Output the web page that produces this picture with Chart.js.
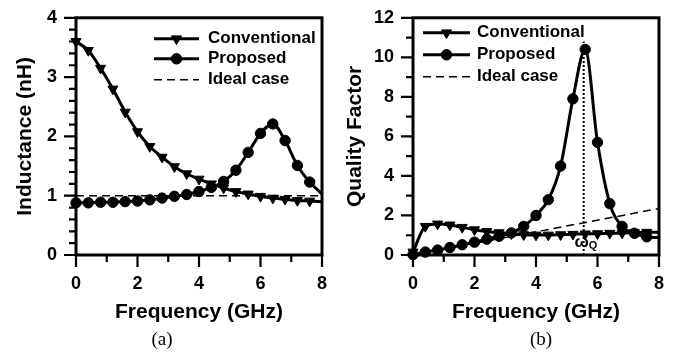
<!DOCTYPE html>
<html>
<head>
<meta charset="utf-8">
<script src="https://cdn.jsdelivr.net/npm/chart.js@4.4.0/dist/chart.umd.min.js"></script>
<style>
  body { margin: 0; background: #fff; }
  #wrap { position: relative; width: 685px; height: 357px; }
  .box { position: absolute; top: 0; height: 357px; }
  #boxA { left: 0; width: 342px; }
  #boxB { left: 342px; width: 343px; }
</style>
</head>
<body>
<div id="wrap">
  <div class="box" id="boxA"><canvas id="chartA"></canvas></div>
  <div class="box" id="boxB"><canvas id="chartB"></canvas></div>
</div>
<script>
// frequency points (GHz)
const freq = [0, 0.4, 0.8, 1.2, 1.6, 2.0, 2.4, 2.8, 3.2, 3.6, 4.0, 4.4, 4.8, 5.2, 5.6, 6.0, 6.4, 6.8, 7.2, 7.6, 8.0];

// (a) inductance, nH
const indConventional = [3.60, 3.45, 3.15, 2.80, 2.41, 2.08, 1.83, 1.65, 1.49, 1.37, 1.28, 1.20, 1.13, 1.07, 1.03, 0.99, 0.96, 0.94, 0.92, 0.91, 0.90];
const indProposed = [0.88, 0.88, 0.89, 0.89, 0.90, 0.91, 0.93, 0.96, 0.99, 1.02, 1.07, 1.14, 1.24, 1.43, 1.73, 2.05, 2.21, 1.93, 1.51, 1.23, 1.03];
const indIdealFreq = [0, 8];
const indIdeal = [1, 1];

// (b) quality factor
const qConventional = [0.15, 1.45, 1.57, 1.52, 1.40, 1.28, 1.19, 1.13, 1.08, 1.03, 1.01, 1.01, 1.03, 1.05, 1.07, 1.08, 1.10, 1.11, 1.13, 1.15, 1.15];
const qProposed = [0.02, 0.15, 0.25, 0.38, 0.52, 0.65, 0.80, 0.95, 1.12, 1.45, 2.00, 2.80, 4.50, 7.90, 10.40, 5.70, 2.60, 1.45, 1.10, 0.92, 0.88];
const qIdealFreq = [0, 8];
const qIdeal = [0, 2.35];
const wqFreq = [5.55, 5.55];
const wqLine = [0, 10.8];

const xTicks = [0, 2, 4, 6, 8];
const yTicksA = [0, 1, 2, 3, 4];
const yTicksB = [0, 2, 4, 6, 8, 10, 12];
const legendLabels = ['Conventional', 'Proposed', 'Ideal case'];

const SANS = "'Liberation Sans', Arial, sans-serif";
const TRI_R = 5.8;
const DOT_R = 5.2;

function pts(xs, ys) {
  return xs.map((x, i) => ({ x: x, y: ys[i] }));
}

function curve(xs, ys, style) {
  const last = xs.length - 1;
  const r = style === 'triangle' ? TRI_R : DOT_R;
  return {
    data: pts(xs, ys),
    borderColor: '#000',
    backgroundColor: '#000',
    borderWidth: 3,
    pointStyle: style,
    rotation: style === 'triangle' ? 180 : 0,
    pointRadius: (c) => (c.dataIndex === last ? 0 : r),
    pointBorderWidth: 1,
    pointBorderColor: '#000',
    pointBackgroundColor: '#000',
    tension: 0.4,
    cubicInterpolationMode: 'monotone',
    clip: false,
  };
}

function straight(xs, ys, dash, width) {
  return {
    data: pts(xs, ys),
    borderColor: '#000',
    borderWidth: width,
    borderDash: dash,
    pointRadius: 0,
    tension: 0,
    clip: false,
  };
}

// frame, outward ticks, legend, captions
const decor = {
  id: 'decor',
  afterDatasetsDraw(chart, args, o) {
    const { ctx, chartArea: a, scales } = chart;
    const x = scales.x, y = scales.y;
    ctx.save();
    ctx.strokeStyle = '#000';
    ctx.lineWidth = 2.2;
    const marks = (min, max, minor, major, fn) => {
      const n = Math.round((max - min) / minor);
      for (let i = 0; i <= n; i++) {
        const v = min + i * minor;
        const isMajor = Math.abs(v / major - Math.round(v / major)) < 1e-6;
        fn(v, isMajor ? 12 : 7);
      }
    };
    ctx.beginPath();
    marks(0, 8, 1, 2, (v, len) => {
      const px = x.getPixelForValue(v);
      ctx.moveTo(px, a.bottom);
      ctx.lineTo(px, a.bottom + len);
    });
    marks(0, o.yMax, o.yMinor, o.yMajor, (v, len) => {
      const py = y.getPixelForValue(v);
      ctx.moveTo(a.left, py);
      ctx.lineTo(a.left - len, py);
    });
    ctx.stroke();
    ctx.lineWidth = 3;
    ctx.strokeRect(a.left, a.top, a.width, a.height);

    // legend
    const L = o.legend;
    ctx.font = 'bold 17px ' + SANS;
    ctx.textBaseline = 'middle';
    ctx.textAlign = 'left';
    ctx.fillStyle = '#000';
    legendLabels.forEach((lab, i) => {
      const ly = a.top + L.rows[i];
      const x0 = a.left + L.x0, x1 = a.left + L.x1;
      ctx.beginPath();
      if (i === 2) {
        ctx.lineWidth = 1.5;
        ctx.setLineDash([8, 5]);
      } else {
        ctx.lineWidth = 3;
        ctx.setLineDash([]);
      }
      ctx.moveTo(x0, ly);
      ctx.lineTo(x1, ly);
      ctx.stroke();
      ctx.setLineDash([]);
      if (i < 2) {
        ctx.lineWidth = 1;
        Chart.helpers.drawPoint(ctx, {
          pointStyle: i === 0 ? 'triangle' : 'circle',
          rotation: i === 0 ? 180 : 0,
          radius: i === 0 ? TRI_R : DOT_R,
          borderWidth: 1,
        }, (x0 + x1) / 2, ly);
        ctx.fill();
      }
      ctx.fillText(lab, a.left + L.tx, ly);
    });

    // omega_Q marker label
    if (o.wq) {
      const wx = x.getPixelForValue(o.wq.x);
      const wy = y.getPixelForValue(o.wq.y);
      ctx.font = 'bold 17px ' + SANS;
      ctx.textBaseline = 'alphabetic';
      ctx.fillText('ω', wx, wy);
      const w = ctx.measureText('ω').width;
      ctx.font = 'bold 11px ' + SANS;
      ctx.fillText('Q', wx + w, wy + 2);
    }

    // panel caption
    ctx.font = "19px 'Liberation Serif', 'Times New Roman', serif";
    ctx.textAlign = 'center';
    ctx.textBaseline = 'middle';
    ctx.fillText(o.caption, o.captionX, 340);
    ctx.restore();
  },
};

function makeChart(id, datasets, yMax, yTicks, yTitle, yWidth, titlePad, pad, extra) {
  return new Chart(document.getElementById(id), {
    type: 'line',
    data: { datasets: datasets },
    plugins: [decor],
    options: {
      responsive: true,
      maintainAspectRatio: false,
      animation: false,
      devicePixelRatio: 1,
      layout: { padding: pad },
      plugins: {
        legend: { display: false },
        title: { display: false },
        tooltip: { enabled: false },
        decor: extra,
      },
      scales: {
        x: {
          type: 'linear',
          min: 0,
          max: 8,
          afterBuildTicks: (axis) => { axis.ticks = xTicks.map((v) => ({ value: v })); },
          afterFit: (axis) => { axis.height = 82; },
          grid: { display: false, drawTicks: true, tickLength: 12 },
          border: { display: false },
          ticks: { color: '#000', padding: 6, font: { family: SANS, size: 18, weight: 'bold' } },
          title: {
            display: true,
            text: 'Frequency (GHz)',
            color: '#000',
            padding: { top: 0, bottom: 12 },
            font: { family: SANS, size: 21, weight: 'bold' },
          },
        },
        y: {
          type: 'linear',
          min: 0,
          max: yMax,
          afterBuildTicks: (axis) => { axis.ticks = yTicks.map((v) => ({ value: v })); },
          afterFit: (axis) => { axis.width = yWidth; },
          grid: { display: false, drawTicks: true, tickLength: 12 },
          border: { display: false },
          ticks: { color: '#000', padding: 7, font: { family: SANS, size: 18, weight: 'bold' } },
          title: {
            display: true,
            text: yTitle,
            color: '#000',
            padding: { top: titlePad, bottom: 0 },
            font: { family: SANS, size: 21, weight: 'bold' },
          },
        },
      },
    },
  });
}

makeChart('chartA', [
  curve(freq, indConventional, 'triangle'),
  curve(freq, indProposed, 'circle'),
  straight(indIdealFreq, indIdeal, [8, 5], 1.5),
], 4, yTicksA, 'Inductance (nH)', 76, 13, { left: 0, right: 20, top: 12, bottom: 20 }, {
  yMax: 4, yMinor: 0.2, yMajor: 1,
  legend: { x0: 78, x1: 123, tx: 132, rows: [21, 41, 62] },
  caption: '(a)', captionX: 162,
});

makeChart('chartB', [
  curve(freq, qConventional, 'triangle'),
  curve(freq, qProposed, 'circle'),
  straight(wqFreq, wqLine, [2, 2], 2),
  straight(qIdealFreq, qIdeal, [8, 5], 1.5),
], 12, yTicksB, 'Quality Factor', 71, 1, { left: 0, right: 26, top: 13, bottom: 20 }, {
  yMax: 12, yMinor: 1, yMajor: 2,
  legend: { x0: 10, x1: 57, tx: 64, rows: [15, 37, 59] },
  wq: { x: 5.25, y: 0.4 },
  caption: '(b)', captionX: 199,
});
</script>
</body>
</html>
